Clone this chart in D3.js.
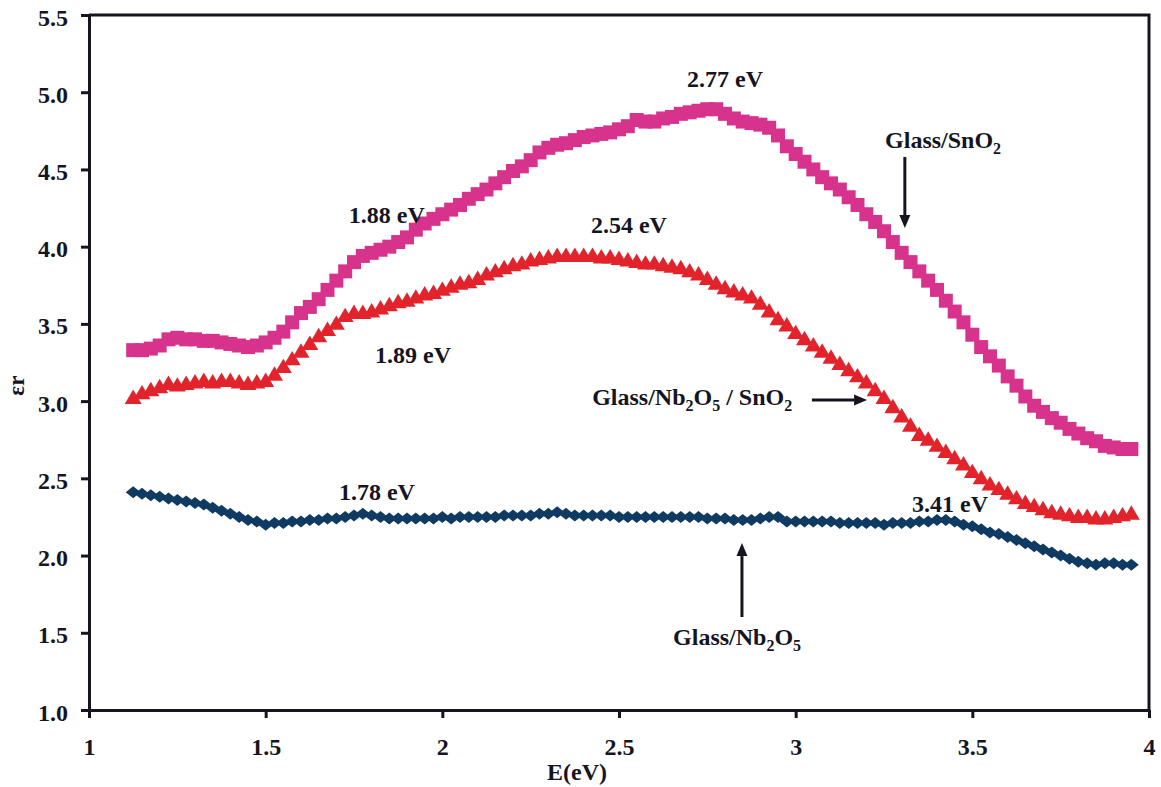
<!DOCTYPE html>
<html>
<head>
<meta charset="utf-8">
<script src="https://cdn.jsdelivr.net/npm/d3@7"></script>
<style>
  body { margin: 0; background: #fff; }
  svg text { font-family: "Liberation Serif", "Times New Roman", serif; font-weight: bold; fill: #15151f; }
</style>
</head>
<body>
<svg id="chart" width="1161" height="787"></svg>
<script>
// Photon energy (eV) at which the real permittivity was sampled
const energies = [
  1.125,1.150,1.175,1.200,1.225,1.250,1.275,1.300,1.325,1.350,
  1.375,1.400,1.425,1.450,1.475,1.500,1.525,1.550,1.575,1.600,
  1.625,1.650,1.675,1.700,1.725,1.750,1.775,1.800,1.825,1.850,
  1.875,1.900,1.925,1.950,1.975,2.000,2.025,2.050,2.075,2.100,
  2.125,2.150,2.175,2.200,2.225,2.250,2.275,2.300,2.325,2.350,
  2.375,2.400,2.425,2.450,2.475,2.500,2.525,2.550,2.575,2.600,
  2.625,2.650,2.675,2.700,2.725,2.750,2.775,2.800,2.825,2.850,
  2.875,2.900,2.925,2.950,2.975,3.000,3.025,3.050,3.075,3.100,
  3.125,3.150,3.175,3.200,3.225,3.250,3.275,3.300,3.325,3.350,
  3.375,3.400,3.425,3.450,3.475,3.500,3.525,3.550,3.575,3.600,
  3.625,3.650,3.675,3.700,3.725,3.750,3.775,3.800,3.825,3.850,
  3.875,3.900,3.925,3.950
];

// Real part of the dielectric constant, εr
const glassSnO2 = [
  3.33,3.33,3.34,3.36,3.40,3.41,3.40,3.40,3.39,3.39,
  3.38,3.37,3.36,3.35,3.36,3.38,3.41,3.45,3.51,3.57,
  3.61,3.66,3.72,3.78,3.84,3.90,3.94,3.96,3.98,4.00,
  4.03,4.06,4.11,4.15,4.18,4.21,4.24,4.27,4.31,4.34,
  4.37,4.41,4.45,4.49,4.52,4.56,4.61,4.64,4.66,4.67,
  4.69,4.71,4.72,4.73,4.74,4.76,4.78,4.82,4.81,4.81,
  4.83,4.84,4.86,4.87,4.88,4.89,4.89,4.86,4.83,4.81,
  4.80,4.79,4.77,4.72,4.65,4.60,4.55,4.50,4.45,4.41,
  4.37,4.32,4.27,4.21,4.16,4.10,4.03,3.96,3.90,3.84,
  3.78,3.72,3.65,3.58,3.51,3.43,3.35,3.29,3.23,3.16,
  3.10,3.03,2.97,2.93,2.89,2.86,2.82,2.79,2.76,2.74,
  2.71,2.70,2.69,2.69
];

const glassNb2O5SnO2 = [
  3.02,3.05,3.07,3.09,3.11,3.10,3.11,3.12,3.13,3.12,
  3.13,3.13,3.12,3.11,3.12,3.13,3.17,3.22,3.27,3.32,
  3.37,3.42,3.46,3.50,3.55,3.57,3.57,3.58,3.60,3.62,
  3.64,3.65,3.67,3.69,3.70,3.72,3.74,3.76,3.77,3.79,
  3.82,3.84,3.86,3.88,3.89,3.91,3.92,3.93,3.94,3.94,
  3.94,3.94,3.94,3.93,3.93,3.92,3.91,3.90,3.89,3.89,
  3.88,3.87,3.86,3.84,3.82,3.79,3.76,3.73,3.71,3.69,
  3.67,3.63,3.58,3.53,3.49,3.44,3.40,3.36,3.32,3.28,
  3.24,3.20,3.16,3.12,3.07,3.02,2.96,2.90,2.84,2.78,
  2.75,2.71,2.67,2.63,2.59,2.54,2.50,2.46,2.43,2.40,
  2.37,2.34,2.32,2.30,2.28,2.27,2.26,2.25,2.25,2.24,
  2.24,2.25,2.26,2.27
];

const glassNb2O5 = [
  2.41,2.40,2.39,2.38,2.37,2.36,2.35,2.34,2.33,2.31,
  2.29,2.27,2.25,2.23,2.22,2.20,2.21,2.21,2.22,2.22,
  2.23,2.23,2.24,2.24,2.25,2.26,2.27,2.26,2.25,2.24,
  2.24,2.24,2.24,2.24,2.24,2.25,2.24,2.25,2.25,2.25,
  2.25,2.25,2.26,2.26,2.26,2.26,2.27,2.27,2.28,2.27,
  2.26,2.26,2.26,2.26,2.26,2.25,2.25,2.25,2.25,2.25,
  2.25,2.25,2.25,2.25,2.25,2.24,2.24,2.24,2.23,2.23,
  2.23,2.24,2.25,2.25,2.22,2.22,2.22,2.22,2.22,2.22,
  2.21,2.21,2.21,2.21,2.21,2.20,2.21,2.21,2.21,2.22,
  2.22,2.23,2.23,2.22,2.20,2.19,2.17,2.15,2.14,2.12,
  2.10,2.08,2.06,2.04,2.02,2.00,1.98,1.96,1.95,1.94,
  1.95,1.95,1.94,1.94
];

const xTicks = [1, 1.5, 2, 2.5, 3, 3.5, 4];
const xTickLabels = ["1", "1.5", "2", "2.5", "3", "3.5", "4"];
const yTicks = [1.0, 1.5, 2.0, 2.5, 3.0, 3.5, 4.0, 4.5, 5.0, 5.5];
const yTickLabels = ["1.0", "1.5", "2.0", "2.5", "3.0", "3.5", "4.0", "4.5", "5.0", "5.5"];

// Peak / band annotations, placed in data units [E, εr]
const peakLabels = [
  { text: "2.77 eV", at: [2.800, 5.034] },
  { text: "2.54 eV", at: [2.528, 4.089] },
  { text: "1.88 eV", at: [1.843, 4.153] },
  { text: "1.89 eV", at: [1.917, 3.247] },
  { text: "1.78 eV", at: [1.815, 2.360] },
  { text: "3.41 eV", at: [3.437, 2.282] }
];

const svg = d3.select("#chart");
const x = d3.scaleLinear().domain([1, 4]).range([89, 1149]);
const y = d3.scaleLinear().domain([1, 5.5]).range([710, 15]);
const ink = "#15151f";

// Plot frame (top and right edges)
svg.append("path")
  .attr("d", `M${x(1)},${y(5.5)}H${x(4)}V${y(1)}`)
  .attr("fill", "none").attr("stroke", ink).attr("stroke-width", 3);

// Axes
const xAxis = svg.append("g")
  .attr("transform", `translate(0,${y(1)})`)
  .call(d3.axisBottom(x).tickValues(xTicks)
    .tickFormat((d, i) => xTickLabels[i])
    .tickSize(8).tickSizeOuter(0).tickPadding(20));
const yAxis = svg.append("g")
  .attr("transform", `translate(${x(1)},0)`)
  .call(d3.axisLeft(y).tickValues(yTicks)
    .tickFormat((d, i) => yTickLabels[i])
    .tickSize(8).tickSizeOuter(0).tickPadding(13));

[xAxis, yAxis].forEach(g => {
  g.select(".domain").attr("stroke", ink).attr("stroke-width", 3);
  g.selectAll(".tick line").attr("stroke", ink).attr("stroke-width", 3);
  g.selectAll(".tick text")
    .attr("font-size", 24).attr("fill", ink)
    .attr("font-family", "'Liberation Serif','Times New Roman',serif")
    .attr("font-weight", "bold");
});
yAxis.selectAll(".tick text").attr("dy", "0.42em");
xAxis.selectAll(".tick text").attr("dy", "0.71em");

// Axis titles
svg.append("text")
  .attr("x", x(2.5) - 42).attr("y", 780)
  .attr("text-anchor", "middle").attr("font-size", 24)
  .text("E(eV)");
svg.append("text")
  .attr("transform", `translate(24,${y(3.1)}) rotate(-90)`)
  .attr("text-anchor", "middle").attr("font-size", 23)
  .text("εr");

// Marker shapes (size = nominal width in px)
const squareType = { draw(ctx, s) { const h = s / 2; ctx.rect(-h, -h, s, s); } };
const triangleType = { draw(ctx, s) {
  ctx.moveTo(0, -s * 0.5); ctx.lineTo(s * 0.5, s * 0.35); ctx.lineTo(-s * 0.5, s * 0.35); ctx.closePath();
} };
const diamondType = { draw(ctx, s) {
  ctx.moveTo(0, -s * 0.4); ctx.lineTo(s * 0.5, 0); ctx.lineTo(0, s * 0.4); ctx.lineTo(-s * 0.5, 0); ctx.closePath();
} };

const series = [
  { name: "Glass/Nb2O5", values: glassNb2O5, color: "#0f3b63", type: diamondType, size: 15 },
  { name: "Glass/Nb2O5/SnO2", values: glassNb2O5SnO2, color: "#e3232c", type: triangleType, size: 17 },
  { name: "Glass/SnO2", values: glassSnO2, color: "#d8338c", type: squareType, size: 14 }
];

series.forEach(s => {
  const sym = d3.symbol().type(s.type).size(s.size);
  svg.append("g")
    .selectAll("path")
    .data(energies.map((e, i) => [e, s.values[i]]))
    .join("path")
    .attr("transform", d => `translate(${x(d[0])},${y(d[1])})`)
    .attr("d", sym)
    .attr("fill", s.color);
});

// Peak energy labels
svg.append("g").selectAll("text")
  .data(peakLabels).join("text")
  .attr("x", d => x(d.at[0])).attr("y", d => y(d.at[1]))
  .attr("text-anchor", "middle").attr("font-size", 24)
  .text(d => d.text);

// Sample labels with chemical subscripts
function formula(xPos, yPos, parts) {
  const t = svg.append("text").attr("x", xPos).attr("y", yPos).attr("font-size", 24);
  let lowered = false;
  parts.forEach(p => {
    if (p.sub) {
      t.append("tspan").attr("font-size", 16).attr("dy", lowered ? 0 : 6).text(p.sub);
      lowered = true;
    } else {
      t.append("tspan").attr("dy", lowered ? -6 : 0).text(p.t);
      lowered = false;
    }
  });
}
formula(x(3.253), y(4.639), [{ t: "Glass/SnO" }, { sub: "2" }]);
formula(x(2.424), y(2.975), [{ t: "Glass/Nb" }, { sub: "2" }, { t: "O" }, { sub: "5" }, { t: "\u00a0/\u00a0SnO" }, { sub: "2" }]);
formula(x(2.653), y(1.421), [{ t: "Glass/Nb" }, { sub: "2" }, { t: "O" }, { sub: "5" }]);

// Pointer arrows
function arrow(x1, y1, x2, y2) {
  const ang = Math.atan2(y2 - y1, x2 - x1);
  const L = 13, Wd = 5.5;
  const bx = x2 - L * Math.cos(ang), by = y2 - L * Math.sin(ang);
  svg.append("line")
    .attr("x1", x1).attr("y1", y1).attr("x2", bx).attr("y2", by)
    .attr("stroke", ink).attr("stroke-width", 3);
  const px = -Math.sin(ang) * Wd, py = Math.cos(ang) * Wd;
  svg.append("path")
    .attr("d", `M${x2},${y2}L${bx + px},${by + py}L${bx - px},${by - py}Z`)
    .attr("fill", ink);
}
arrow(x(3.309), y(4.581), x(3.309), y(4.121));
arrow(x(3.046), y(3.007), x(3.202), y(3.007));
arrow(x(2.848), y(1.602), x(2.848), y(2.081));
</script>
</body>
</html>
